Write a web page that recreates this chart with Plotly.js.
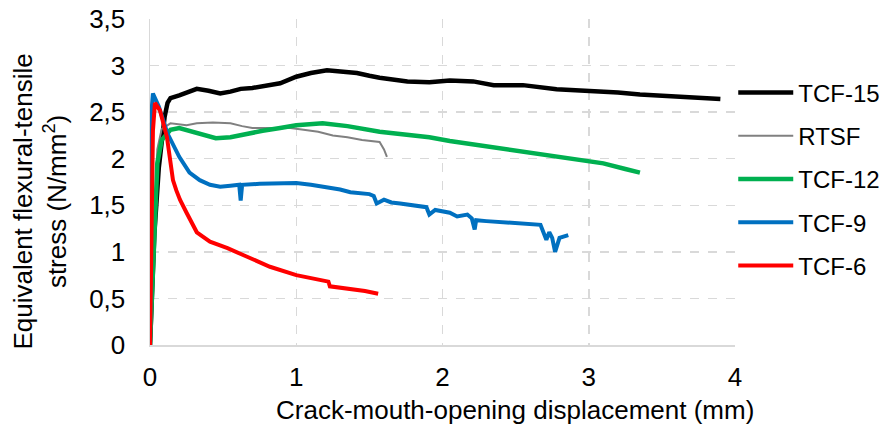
<!DOCTYPE html>
<html>
<head>
<meta charset="utf-8">
<script src="https://cdn.plot.ly/plotly-3.0.1.min.js"></script>
<style>html,body{margin:0;padding:0;background:#fff;}#chart{width:881px;height:428px;}</style>
</head>
<body>
<div id="chart"></div>
<script>
// TCF-15
const tcf15X = [0, 0.03, 0.06, 0.08, 0.10, 0.12, 0.14, 0.2, 0.26, 0.32, 0.4, 0.48, 0.55, 0.62, 0.7, 0.77, 0.89, 1.0, 1.1, 1.21, 1.3, 1.415, 1.5, 1.57, 1.76, 1.91, 2.05, 2.21, 2.35, 2.55, 2.78, 3.01, 3.2, 3.35, 3.56, 3.78, 3.90];
const tcf15Y = [0, 1.2, 1.9, 2.15, 2.45, 2.6, 2.65, 2.68, 2.72, 2.75, 2.73, 2.70, 2.72, 2.75, 2.76, 2.78, 2.81, 2.88, 2.92, 2.95, 2.94, 2.92, 2.89, 2.87, 2.83, 2.82, 2.84, 2.83, 2.79, 2.79, 2.745, 2.73, 2.71, 2.69, 2.67, 2.65, 2.64];
// RTSF
const rtsfX = [0, 0.03, 0.05, 0.08, 0.14, 0.25, 0.32, 0.43, 0.55, 0.63, 0.7, 0.8, 0.9, 0.96, 1.05, 1.15, 1.25, 1.35, 1.45, 1.57, 1.6, 1.62];
const rtsfY = [0, 1.4, 2.1, 2.32, 2.38, 2.36, 2.38, 2.39, 2.38, 2.35, 2.33, 2.33, 2.33, 2.33, 2.31, 2.29, 2.25, 2.23, 2.20, 2.18, 2.10, 2.02];
// TCF-12
const tcf12X = [0, 0.03, 0.05, 0.08, 0.14, 0.2, 0.34, 0.45, 0.55, 0.66, 0.77, 0.89, 1.0, 1.18, 1.35, 1.57, 1.71, 1.91, 2.05, 2.35, 2.65, 2.96, 3.10, 3.25, 3.35];
const tcf12Y = [0, 1.3, 1.95, 2.2, 2.31, 2.33, 2.27, 2.22, 2.23, 2.27, 2.30, 2.33, 2.36, 2.38, 2.35, 2.29, 2.27, 2.23, 2.19, 2.12, 2.06, 1.98, 1.95, 1.89, 1.85];
// TCF-9
const tcf9X = [0, 0.005, 0.01, 0.02, 0.06, 0.12, 0.2, 0.27, 0.34, 0.41, 0.48, 0.55, 0.61, 0.62, 0.63, 0.75, 0.9, 1.0, 1.1, 1.2, 1.3, 1.37, 1.50, 1.53, 1.55, 1.60, 1.65, 1.71, 1.80, 1.89, 1.91, 1.95, 2.05, 2.10, 2.17, 2.20, 2.22, 2.23, 2.30, 2.39, 2.5, 2.6, 2.67, 2.71, 2.73, 2.75, 2.77, 2.80, 2.83, 2.86];
const tcf9Y = [0, 1.5, 2.5, 2.70, 2.56, 2.27, 2.02, 1.85, 1.77, 1.72, 1.70, 1.71, 1.72, 1.55, 1.72, 1.73, 1.74, 1.74, 1.72, 1.70, 1.67, 1.64, 1.62, 1.60, 1.52, 1.56, 1.53, 1.52, 1.50, 1.48, 1.40, 1.45, 1.42, 1.38, 1.40, 1.36, 1.24, 1.34, 1.33, 1.32, 1.31, 1.30, 1.29, 1.13, 1.21, 1.15, 1.00, 1.15, 1.17, 1.18];
// TCF-6
const tcf6X = [0, 0.01, 0.02, 0.034, 0.068, 0.116, 0.137, 0.157, 0.18, 0.205, 0.25, 0.32, 0.41, 0.53, 0.66, 0.82, 1.0, 1.18, 1.22, 1.23, 1.35, 1.47, 1.56];
const tcf6Y = [0, 1.3, 2.3, 2.60, 2.52, 2.23, 1.95, 1.77, 1.66, 1.56, 1.42, 1.21, 1.11, 1.04, 0.95, 0.84, 0.75, 0.70, 0.68, 0.63, 0.61, 0.58, 0.55];

const seriesNames = ['TCF-15', 'RTSF', 'TCF-12', 'TCF-9', 'TCF-6'];
const seriesX = [tcf15X, rtsfX, tcf12X, tcf9X, tcf6X];
const seriesY = [tcf15Y, rtsfY, tcf12Y, tcf9Y, tcf6Y];
const seriesColors = ['#000000', '#808080', '#00b050', '#0070c0', '#ff0000'];
const seriesWidths = [4.5, 2, 4.5, 4, 4];

const xTicks = [0, 1, 2, 3, 4];
const yTicks = [0, 0.5, 1, 1.5, 2, 2.5, 3, 3.5];

const xTitle = 'Crack-mouth-opening displacement (mm)';
const yTitle = 'Equivalent flexural-tensile<br>stress (N/mm<sup>2</sup>)';

const FONT = 'Liberation Sans, Arial, sans-serif';

const traces = seriesNames.map((n, i) => ({
  type: 'scatter', mode: 'lines', name: n,
  x: seriesX[i], y: seriesY[i],
  line: {color: seriesColors[i], width: seriesWidths[i]},
  legendgroup: 'g' + i
}));

const layout = {
  width: 881, height: 428,
  margin: {l: 150, r: 146, t: 19, b: 83, autoexpand: false},
  paper_bgcolor: '#fff', plot_bgcolor: '#fff',
  separators: ', ',
  font: {family: FONT, size: 26, color: '#000'},
  showlegend: true,
  legend: {
    x: 0.997, xanchor: 'left', y: 0.842, yanchor: 'top',
    font: {family: FONT, size: 24, color: '#000'},
    itemwidth: 55, tracegroupgap: 9, traceorder: 'grouped',
    bgcolor: 'rgba(0,0,0,0)'
  },
  xaxis: {
    range: [0, 4], tickvals: xTicks, ticktext: xTicks.map(String),
    showgrid: true, gridcolor: '#d9d9d9', griddash: 'dash', gridwidth: 1.5,
    showline: true, linecolor: '#d9d9d9', linewidth: 1.5,
    zeroline: false,
    ticks: 'outside', ticklen: 8, tickcolor: 'rgba(0,0,0,0)',
    tickfont: {family: FONT, size: 26, color: '#000'}
  },
  yaxis: {
    range: [0, 3.5], tickvals: yTicks,
    showgrid: true, gridcolor: '#d9d9d9', griddash: 'dash', gridwidth: 1.5,
    showline: true, linecolor: '#d9d9d9', linewidth: 1.5,
    zeroline: false,
    ticks: 'outside', ticklen: 18, tickcolor: 'rgba(0,0,0,0)',
    tickfont: {family: FONT, size: 26, color: '#000'}
  },
  annotations: [
    {text: xTitle, xref: 'paper', yref: 'paper', x: (515 - 150) / 585, y: -0.2, xanchor: 'center', yanchor: 'middle',
     showarrow: false, font: {family: FONT, size: 26, color: '#000'}},
    {text: yTitle, xref: 'paper', yref: 'paper', x: -0.188, y: 0.44, xanchor: 'center', yanchor: 'middle', textangle: -90,
     showarrow: false, font: {family: FONT, size: 26, color: '#000'}}
  ]
};

Plotly.newPlot('chart', traces, layout, {displayModeBar: false, staticPlot: true});
</script>
</body>
</html>
